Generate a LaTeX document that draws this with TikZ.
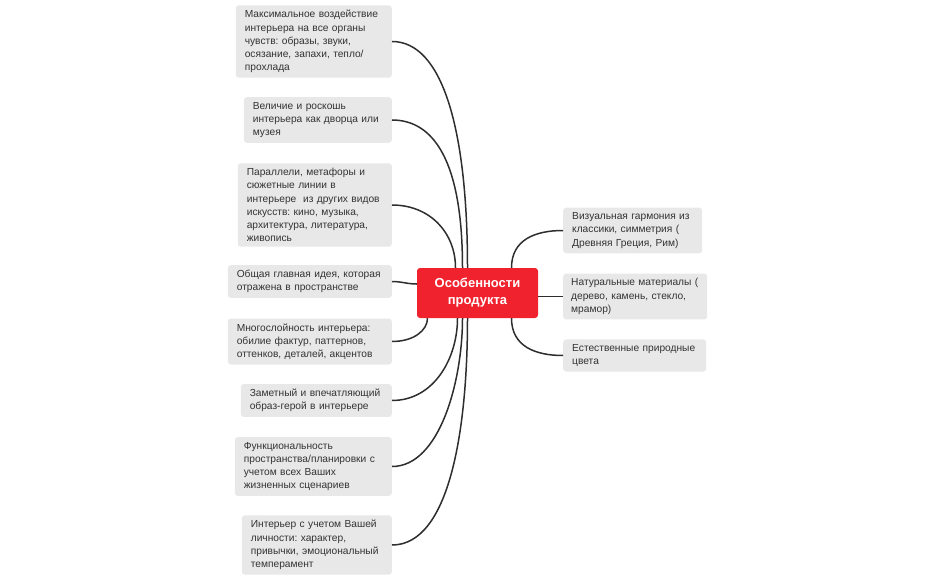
\documentclass[tikz,border=0pt]{standalone}
\usepackage{fontspec}
\setmainfont{Liberation Sans}
\usepackage{xcolor}
\usepackage{tikz}

\definecolor{boxgray}{HTML}{E8E8E8}
\definecolor{txtgray}{HTML}{333333}
\definecolor{topicred}{HTML}{F0222E}
\definecolor{linegray}{HTML}{2E2E2E}

\begin{document}
\frenchspacing
\begin{tikzpicture}[x=1pt, y=-1pt,
    topic/.style={fill=boxgray, rounded corners=3pt, inner xsep=9pt, inner ysep=5pt,
        align=left, text=txtgray, font=\fontsize{10.2}{13.2}\selectfont},
    central/.style={fill=topicred, rounded corners=3pt, minimum width=121pt, minimum height=50pt,
        align=center, text=white, font=\bfseries\fontsize{13}{17}\selectfont},
    link/.style={draw=linegray, line width=1.5pt}]
    \useasboundingbox (0,0) rectangle (936,580);

    % Central topic
    \node[central] (c) at (477.5,293) {Особенности\\продукта};

    % Left branches
    \node[topic, text width=138pt, anchor=east] (b1) at (392,41.5)
        {Максимальное воздействие\\интерьера на все органы\\чувств: образы, звуки,\\осязание, запахи, тепло/\\прохлада};
    \node[topic, text width=130pt, anchor=east] (b2) at (392,120)
        {Величие и роскошь\\интерьера как дворца или\\музея};
    \node[topic, text width=136pt, anchor=east] (b3) at (392,205)
        {Параллели, метафоры и\\сюжетные линии в\\интерьере\ \ из других видов\\искусств: кино, музыка,\\архитектура, литература,\\живопись};
    \node[topic, text width=146pt, anchor=east] (b4) at (392,281.5)
        {Общая главная идея, которая\\отражена в пространстве};
    \node[topic, text width=146pt, anchor=east] (b5) at (392,341.5)
        {Многослойность интерьера:\\обилие фактур, паттернов,\\оттенков, деталей, акцентов};
    \node[topic, text width=133pt, anchor=east] (b6) at (392,400.5)
        {Заметный и впечатляющий\\образ-герой в интерьере};
    \node[topic, text width=139pt, anchor=east] (b7) at (392,466.5)
        {Функциональность\\пространства/планировки с\\учетом всех Ваших\\жизненных сценариев};
    \node[topic, text width=132pt, anchor=east] (b8) at (392,545)
        {Интерьер с учетом Вашей\\личности: характер,\\привычки, эмоциональный\\темперамент};

    % Right branches
    \node[topic, text width=121pt, anchor=west] (r1) at (563,230.5)
        {Визуальная гармония из\\классики, симметрия~(\\Древняя Греция, Рим)};
    \node[topic, text width=128pt, inner xsep=8pt, anchor=west] (r2) at (563,296.5)
        {\mbox{Натуральные материалы (}\\дерево, камень, стекло,\\мрамор)};
    \node[topic, text width=125pt, anchor=west] (r3) at (563,355.5)
        {Естественные природные\\цвета};

    % Connectors, upper left
    \foreach \b/\dx/\cx/\h in {b1/-10/50/140, b2/-15/40/110, b3/-22/38/35} {
        \draw[link] (\b.east) .. controls +(\cx,0) and +(0,-\h) .. ([xshift=\dx pt]c.north);
    }
    \draw[link] (b4.east) to[out=0, in=180] ([yshift=9pt]c.west);
    % Connectors, lower left
    \foreach \b/\dx/\cx/\h in {b5/-50/22/12, b6/-20/42/40, b7/-15/48/62, b8/-10/58/110} {
        \draw[link] (\b.east) .. controls +(\cx,0) and +(0,\h) .. ([xshift=\dx pt]c.south);
    }

    % Connectors, right
    \draw[link] ([xshift=34pt]c.north) .. controls +(0,-28) and +(-28,0) .. (r1.west);
    \draw[link] (c.east |- r2.west) -- (r2.west);
    \draw[link] ([xshift=34pt]c.south) .. controls +(0,28) and +(-28,0) .. (r3.west);
\end{tikzpicture}
\end{document}
